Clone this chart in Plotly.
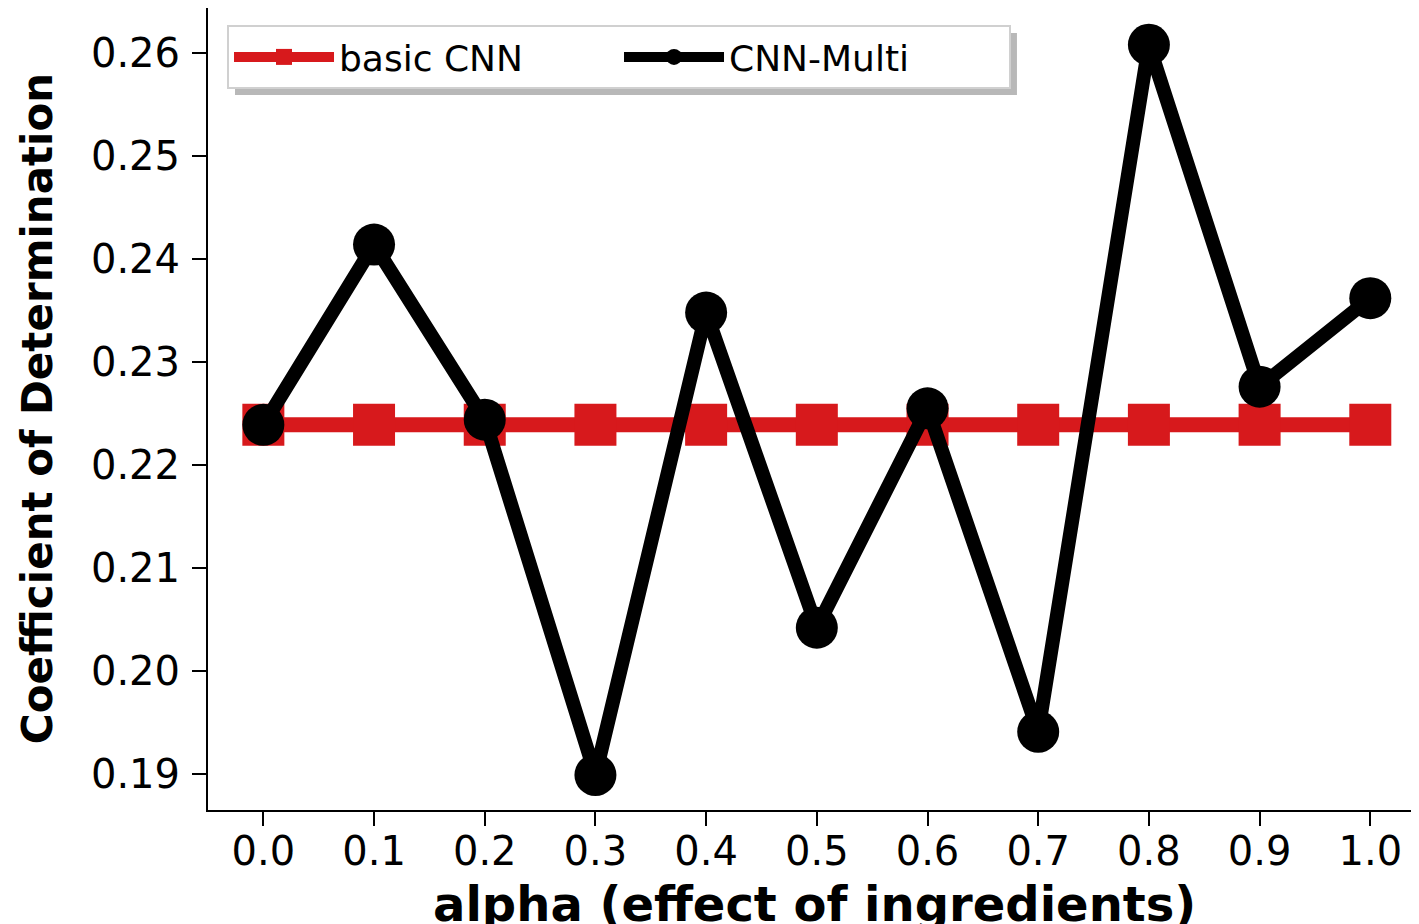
import plotly.graph_objects as go

alpha = [0.0, 0.1, 0.2, 0.3, 0.4, 0.5, 0.6, 0.7, 0.8, 0.9, 1.0]
basic_cnn = [0.2239] * 11
cnn_multi = [0.2239, 0.2414, 0.2244, 0.1899, 0.2348, 0.2042, 0.2255, 0.1941, 0.2608, 0.2276, 0.2362]
x_ticks = [0.0, 0.1, 0.2, 0.3, 0.4, 0.5, 0.6, 0.7, 0.8, 0.9, 1.0]
y_ticks = [0.19, 0.20, 0.21, 0.22, 0.23, 0.24, 0.25, 0.26]

RED = "#d7191c"
FONT = "DejaVu Sans"

fig = go.Figure()
fig.add_trace(go.Scatter(
    x=alpha, y=basic_cnn, name="basic CNN", mode="lines+markers",
    line=dict(color=RED, width=15),
    marker=dict(symbol="square", size=42, color=RED),
))
fig.add_trace(go.Scatter(
    x=alpha, y=cnn_multi, name="CNN-Multi", mode="lines+markers",
    line=dict(color="black", width=14),
    marker=dict(symbol="circle", size=42, color="black"),
))

# legend shadow
fig.add_shape(type="rect", xref="paper", yref="paper",
              x0=0.0223, x1=0.668, y0=0.8915, y1=0.9688,
              fillcolor="#b8b8b8", line=dict(width=0), layer="above")

fig.add_annotation(text="<b>alpha (effect of ingredients)</b>",
                   xref="paper", yref="paper", x=0.501, y=-0.0798,
                   xanchor="center", yanchor="top", showarrow=False,
                   font=dict(family=FONT, size=48, color="black"))
fig.add_annotation(text="<b>Coefficient of Determination</b>",
                   xref="paper", yref="paper", x=-0.1411, y=0.5,
                   xanchor="center", yanchor="middle", showarrow=False,
                   textangle=-90,
                   font=dict(family=FONT, size=42, color="black"))

fig.update_layout(
    width=1411, height=916,
    margin=dict(l=200, r=0, t=0, b=114, autoexpand=False),
    plot_bgcolor="white", paper_bgcolor="white",
    font=dict(family=FONT, color="black"),
    showlegend=True,
    legend=dict(
        orientation="h", x=0.0157, y=0.9788, xanchor="left", yanchor="top",
        bgcolor="white", bordercolor="#d0d0d0", borderwidth=2,
        font=dict(family=FONT, size=36, color="black"),
        itemwidth=100, entrywidth=275,
    ),
    xaxis=dict(
        range=[-0.05, 1.044], tickvals=x_ticks,
        ticktext=[f"{v:.1f}" for v in x_ticks],
        showgrid=False, zeroline=False, automargin=False,
        showline=True, linecolor="black", linewidth=2, mirror=True,
        ticks="outside", ticklen=14, tickwidth=2, tickcolor="black",
        ticklabelstandoff=-9,
        tickfont=dict(family=FONT, size=40),
    ),
    yaxis=dict(
        range=[0.1865, 0.26437], tickvals=y_ticks,
        ticktext=[f"{v:.2f}" for v in y_ticks],
        showgrid=False, zeroline=False, automargin=False,
        showline=True, linecolor="black", linewidth=2, mirror=False,
        ticks="outside", ticklen=14, tickwidth=2, tickcolor="black",
        ticklabelstandoff=4,
        tickfont=dict(family=FONT, size=40),
    ),
)

fig.write_html("out.html")
